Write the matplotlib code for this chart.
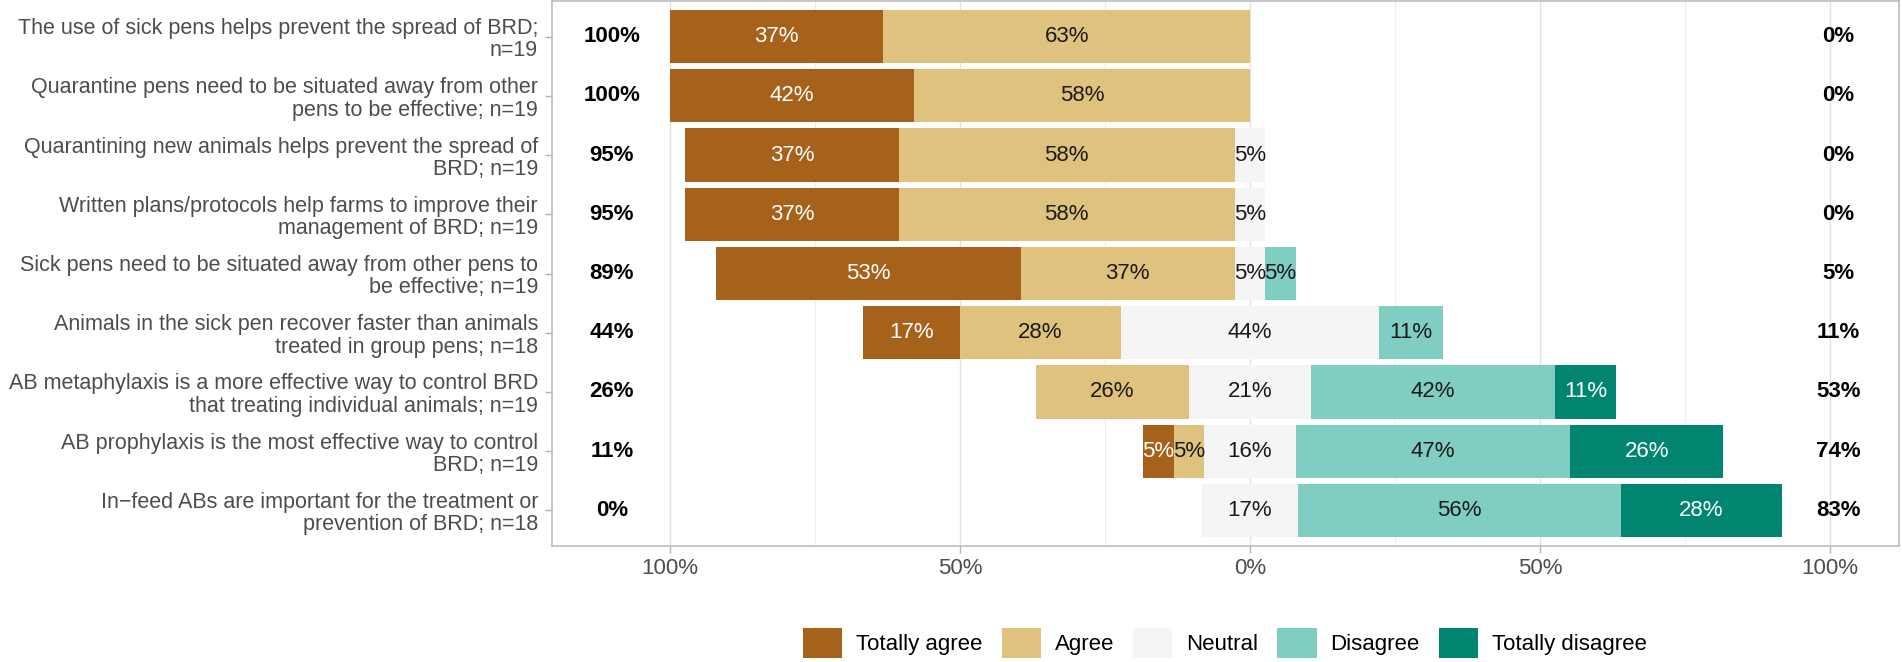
import matplotlib.pyplot as plt
import numpy as np
from matplotlib.patches import Patch

plt.rcParams['font.family'] = ['Liberation Sans', 'DejaVu Sans']

statements = [
    "The use of sick pens helps prevent the spread of BRD;\nn=19",
    "Quarantine pens need to be situated away from other\npens to be effective; n=19",
    "Quarantining new animals helps prevent the spread of\nBRD; n=19",
    "Written plans/protocols help farms to improve their\nmanagement of BRD; n=19",
    "Sick pens need to be situated away from other pens to\nbe effective; n=19",
    "Animals in the sick pen recover faster than animals\ntreated in group pens; n=18",
    "AB metaphylaxis is a more effective way to control BRD\nthat treating individual animals; n=19",
    "AB prophylaxis is the most effective way to control\nBRD; n=19",
    "In\u2212feed ABs are important for the treatment or\nprevention of BRD; n=18",
]

levels = ['Totally agree', 'Agree', 'Neutral', 'Disagree', 'Totally disagree']
colors = ['#A6611A', '#DFC27D', '#F5F5F5', '#80CDC1', '#018571']

# percent per answer, one row per statement
totally_agree = [36.84, 42.11, 36.84, 36.84, 52.63, 16.67, 0.0, 5.26, 0.0]
agree = [63.16, 57.89, 57.89, 57.89, 36.84, 27.78, 26.32, 5.26, 0.0]
neutral = [0.0, 0.0, 5.26, 5.26, 5.26, 44.44, 21.05, 15.79, 16.67]
disagree = [0.0, 0.0, 0.0, 0.0, 5.26, 11.11, 42.11, 47.37, 55.56]
totally_disagree = [0.0, 0.0, 0.0, 0.0, 0.0, 0.0, 10.53, 26.32, 27.78]

vals = np.array([totally_agree, agree, neutral, disagree, totally_disagree]).T
n = len(statements)
ypos = np.arange(n)[::-1]
fs = 16

fig = plt.figure(figsize=(19.02, 6.62), dpi=100)
ax = fig.add_axes([552 / 1902, 116 / 662, 1347 / 1902, 545 / 662])

# neutral is split in half around zero
starts = -(vals[:, 0] + vals[:, 1] + vals[:, 2] / 2)
left = starts.copy()
for j in range(5):
    ax.barh(ypos, vals[:, j], left=left, height=0.9, color=colors[j], linewidth=0, zorder=2)
    for i in range(n):
        v = vals[i, j]
        if v > 0:
            tc = 'white' if j in (0, 4) else '#1A1A1A'
            ax.text(left[i] + v / 2, ypos[i], f"{int(v + 0.5)}%", ha='center', va='center',
                    fontsize=fs, color=tc, zorder=3)
    left = left + vals[:, j]

# totals at the sides
low = vals[:, 0] + vals[:, 1]
high = vals[:, 3] + vals[:, 4]
for i in range(n):
    ax.text(-110, ypos[i], f"{int(low[i] + 0.5)}%", ha='center', va='center',
            fontsize=fs, fontweight='bold', color='black')
    ax.text(101.5, ypos[i], f"{int(high[i] + 0.5)}%", ha='center', va='center',
            fontsize=fs, fontweight='bold', color='black')

ax.set_xlim(-120.3, 111.9)
ax.set_ylim(-0.6, n - 0.4)
ax.set_xticks([-100, -50, 0, 50, 100])
ax.set_xticklabels(['100%', '50%', '0%', '50%', '100%'])
ax.set_xticks([-75, -25, 25, 75], minor=True)
ax.set_yticks(ypos)
ax.set_yticklabels(statements, linespacing=1.08)

ax.set_axisbelow(True)
ax.grid(which='major', axis='x', color='#E3E3E3', lw=1.0, zorder=0)
ax.grid(which='minor', axis='x', color='#EDEDED', lw=0.8, zorder=0)
ax.tick_params(which='major', length=5, width=1, color='#B3B3B3', labelcolor='#4D4D4D', labelsize=fs)
ax.tick_params(axis='y', pad=5, labelsize=15.5)
ax.tick_params(axis='x', pad=3.5)
ax.tick_params(which='minor', length=0)
for s in ax.spines.values():
    s.set_color('#B8B8B8')
    s.set_linewidth(1.1)

handles = [Patch(facecolor=c, edgecolor='none') for c in colors]
fig.legend(handles, levels, loc='center', bbox_to_anchor=(1225 / 1902, 19 / 662), ncol=5,
           frameon=False, fontsize=fs, handlelength=1.76, handleheight=1.76,
           handletextpad=0.63, columnspacing=0.86)

fig.savefig('out.png', dpi=100)
